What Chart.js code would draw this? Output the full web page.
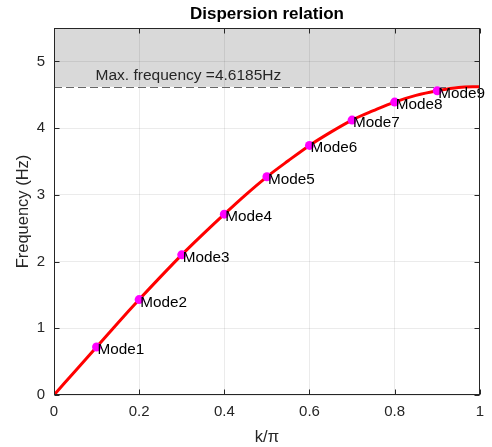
<!DOCTYPE html>
<html>
<head>
<meta charset="utf-8">
<script src="https://cdn.jsdelivr.net/npm/chart.js@4/dist/chart.umd.min.js"></script>
<style>
  html, body { margin: 0; padding: 0; background: #fff; }
  #wrap { width: 492px; height: 447px; }
</style>
</head>
<body>
<div id="wrap"><canvas id="c" width="492" height="447"></canvas></div>
<script>
// Dispersion curve samples (wavenumber k/pi vs frequency in Hz)
const kCurve = [0, 0.05, 0.1, 0.15, 0.2, 0.25, 0.3, 0.35, 0.4, 0.45, 0.5, 0.55, 0.6, 0.65, 0.7, 0.75, 0.8, 0.85, 0.9, 0.95, 1.0];
const fCurve = [0, 0.36, 0.72, 1.08, 1.43, 1.77, 2.10, 2.41, 2.71, 3.00, 3.27, 3.51, 3.74, 3.94, 4.12, 4.26, 4.39, 4.49, 4.56, 4.61, 4.62];

// Discrete modes
const modeNames = ['Mode1', 'Mode2', 'Mode3', 'Mode4', 'Mode5', 'Mode6', 'Mode7', 'Mode8', 'Mode9'];
const modeK = [0.1, 0.2, 0.3, 0.4, 0.5, 0.6, 0.7, 0.8, 0.9];
const modeF = [0.72, 1.43, 2.10, 2.71, 3.27, 3.74, 4.12, 4.39, 4.56];

const maxFrequency = 4.6185;
const xTicks = [0, 0.2, 0.4, 0.6, 0.8, 1];
const yTicks = [0, 1, 2, 3, 4, 5];
const yMax = 5.5;

const FONT = '"Liberation Sans", Arial, Helvetica, sans-serif';
const INK = '#262626';

const decor = {
  id: 'decor',
  beforeDraw(chart) {
    const { ctx, chartArea: a, scales: { y } } = chart;
    ctx.save();
    // band above the maximum frequency
    const yTop = y.getPixelForValue(yMax);
    const yM = y.getPixelForValue(maxFrequency);
    ctx.fillStyle = '#d9d9d9';
    ctx.fillRect(a.left, yTop, a.right - a.left, yM - yTop);
    ctx.restore();
  },
  beforeDatasetsDraw(chart) {
    const { ctx, chartArea: a, scales: { x, y } } = chart;
    ctx.save();
    const yM = Math.round(y.getPixelForValue(maxFrequency)) + 0.5;
    ctx.strokeStyle = '#666666';
    ctx.lineWidth = 1;
    ctx.setLineDash([8, 4]);
    ctx.beginPath();
    ctx.moveTo(a.left, yM);
    ctx.lineTo(a.right, yM);
    ctx.stroke();
    ctx.setLineDash([]);
    // annotation for the maximum
    ctx.fillStyle = INK;
    ctx.font = '15.5px ' + FONT;
    ctx.textAlign = 'left';
    ctx.textBaseline = 'alphabetic';
    ctx.fillText('Max. frequency =' + maxFrequency + 'Hz', x.getPixelForValue(0.1) - 1, y.getPixelForValue(4.8) + 5);
    ctx.restore();
  },
  afterDatasetsDraw(chart) {
    const { ctx, chartArea: a, scales: { x, y } } = chart;
    ctx.save();
    // mode labels
    ctx.fillStyle = '#000';
    ctx.font = '15.3px ' + FONT;
    ctx.textAlign = 'left';
    ctx.textBaseline = 'alphabetic';
    modeNames.forEach((name, i) => {
      const px = x.getPixelForValue(modeK[i]);
      const py = y.getPixelForValue(modeF[i]);
      ctx.fillText(name, px + 1, py + 7);
    });
    // axes box
    ctx.strokeStyle = INK;
    ctx.lineWidth = 1;
    const L = Math.round(a.left) + 0.5, R = Math.round(a.right) - 0.5;
    const T = Math.round(a.top) + 0.5, B = Math.round(a.bottom) - 0.5;
    ctx.strokeRect(L, T, R - L, B - T);
    // inward tick marks on all four sides
    ctx.beginPath();
    xTicks.forEach(v => {
      const px = Math.round(x.getPixelForValue(v)) + 0.5;
      ctx.moveTo(px, B); ctx.lineTo(px, B - 5);
      ctx.moveTo(px, T); ctx.lineTo(px, T + 5);
    });
    yTicks.forEach(v => {
      const py = Math.round(y.getPixelForValue(v)) + 0.5;
      ctx.moveTo(L, py); ctx.lineTo(L + 5, py);
      ctx.moveTo(R, py); ctx.lineTo(R - 5, py);
    });
    ctx.stroke();
    // title and axis titles
    const cx = (a.left + a.right) / 2;
    ctx.fillStyle = '#000';
    ctx.textAlign = 'center';
    ctx.font = 'bold 17px ' + FONT;
    ctx.fillText('Dispersion relation', cx, 19);
    ctx.fillStyle = INK;
    ctx.font = '16.5px ' + FONT;
    ctx.fillText('k/\u03c0', cx, 442);
    ctx.translate(28, (a.top + a.bottom) / 2);
    ctx.rotate(-Math.PI / 2);
    ctx.fillText('Frequency (Hz)', 0, 0);
    ctx.restore();
  }
};

new Chart(document.getElementById('c'), {
  type: 'scatter',
  data: {
    datasets: [
      {
        label: 'dispersion',
        data: kCurve.map((k, i) => ({ x: k, y: fCurve[i] })),
        showLine: true,
        borderColor: '#ff0000',
        borderWidth: 3,
        pointRadius: 0,
        cubicInterpolationMode: 'monotone',
        order: 2
      },
      {
        label: 'modes',
        data: modeK.map((k, i) => ({ x: k, y: modeF[i] })),
        showLine: false,
        pointRadius: 4.5,
        pointBackgroundColor: '#ff00ff',
        pointBorderColor: '#ff00ff',
        pointBorderWidth: 0,
        order: 1
      }
    ]
  },
  options: {
    responsive: false,
    animation: false,
    events: [],
    layout: { padding: { left: 0, right: 10, top: 28, bottom: 0 } },
    plugins: { legend: { display: false }, tooltip: { enabled: false }, title: { display: false } },
    scales: {
      x: {
        type: 'linear', min: 0, max: 1,
        afterBuildTicks(s) { s.ticks = xTicks.map(v => ({ value: v })); },
        afterFit(s) { s.height = 52; },
        grid: { color: 'rgba(0,0,0,0.08)', drawTicks: false },
        border: { display: false },
        ticks: {
          color: INK, padding: 8,
          font: { family: FONT, size: 15 },
          maxRotation: 0,
          callback: v => String(v)
        }
      },
      y: {
        type: 'linear', min: 0, max: yMax,
        afterBuildTicks(s) { s.ticks = yTicks.map(v => ({ value: v })); },
        afterFit(s) { s.width = 54; },
        grid: { color: 'rgba(0,0,0,0.08)', drawTicks: false },
        border: { display: false },
        ticks: {
          color: INK, padding: 9,
          font: { family: FONT, size: 15 },
          callback: v => String(v)
        }
      }
    }
  },
  plugins: [decor]
});
</script>
</body>
</html>
